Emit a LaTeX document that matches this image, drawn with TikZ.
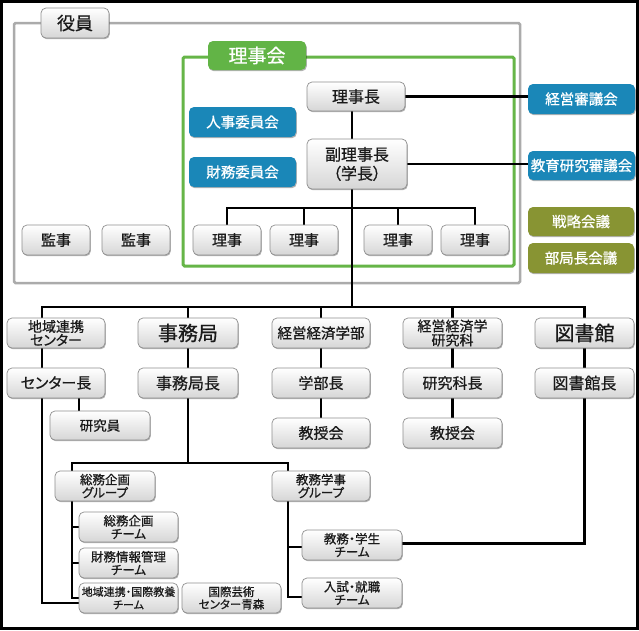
\documentclass[tikz,border=0pt]{standalone}
\usepackage{fontspec}
\setmainfont{Noto Sans CJK JP}[RawFeature=+palt, FakeBold=0.7]
\usetikzlibrary{shadows,calc}
\definecolor{boxline}{HTML}{8E8E8E}
\definecolor{boxbot}{HTML}{D6D6D6}
\definecolor{blueb}{HTML}{1A87B8}
\definecolor{oliveb}{HTML}{889433}
\definecolor{greenb}{HTML}{62B446}
\definecolor{greenf}{HTML}{66B548}
\definecolor{grayf}{HTML}{ABABAB}
\definecolor{txt}{HTML}{1A1A1A}
\newcommand\fsz[2]{\fontsize{#1}{#2}\selectfont}
\pgfdeclarelayer{bg}
\pgfdeclarelayer{lines}
\pgfsetlayers{bg,lines,main}
\begin{document}
\begin{tikzpicture}[x=1pt,y=-1pt,
  sz/.style 2 args={minimum width=#1, minimum height=#2},
  base/.style={rounded corners=5pt, align=center, inner sep=0pt,
    drop shadow={shadow xshift=0.8pt, shadow yshift=-1.2pt, opacity=0.3, fill=black}},
  gbox/.style={base, draw=boxline, line width=0.7pt, top color=white, bottom color=boxbot,
    text=txt, font=\fsz{15}{15}},
  team/.style={gbox, font=\fsz{12.5}{13}},
  bluebox/.style={base, fill=blueb, text=white, font=\fsz{14.5}{15}},
  olivebox/.style={base, fill=oliveb, text=white, font=\fsz{14.5}{15}},
  greenbox/.style={base, fill=greenb, text=white, font=\fsz{19}{19}},
  conn/.style={draw=black, line width=2.7pt, line cap=rect},
  frame/.style={line width=2.5pt, rounded corners=1.5pt}
]
\useasboundingbox (0,0) rectangle (639,630);
\draw[line width=2.6pt] (1.3,1.3) rectangle (637.7,628.7);

% ---- top nodes
\node[gbox, sz={68}{30}, font=\fsz{18}{18}] (yakuin) at (75,23) {役員};
\node[greenbox, sz={98}{29}] (rijikai) at (257,55.5) {理事会};
\node[bluebox, sz={107}{30}] (jinji) at (242.5,122) {人事委員会};
\node[bluebox, sz={107}{30}] (zaimu) at (242.5,172) {財務委員会};
\node[gbox, sz={68}{30}] (kanji1) at (56,240) {監事};
\node[gbox, sz={68}{30}] (kanji2) at (136,240) {監事};
\node[gbox, sz={68}{30}] (riji1) at (227,240) {理事};
\node[gbox, sz={68}{30}] (riji2) at (304,240) {理事};
\node[gbox, sz={68}{30}] (riji3) at (398,240) {理事};
\node[gbox, sz={68}{30}] (riji4) at (475,240) {理事};
\node[gbox, sz={98}{29}, font=\fsz{16}{16}] (rijicho) at (356,96.5) {理事長};
\node[gbox, sz={100}{50}, font=\fsz{16}{19}] (fuku) at (357,164) {副理事長\\（学長）};
\node[bluebox, sz={107}{30}] (keieishin) at (581.5,99) {経営審議会};
\node[bluebox, sz={107}{29}] (kyoikushin) at (581.5,165.5) {教育研究審議会};
\node[olivebox, sz={106}{29}] (senryaku) at (581,221.5) {戦略会議};
\node[olivebox, sz={106}{30}] (bukyoku) at (581,258) {部局長会議};

% ---- middle nodes
\node[gbox, sz={98}{30}, font=\fsz{14}{12}] (chiiki) at (56,333) {地域連携\\センター};
\node[gbox, sz={100}{30}, font=\fsz{20}{20}] (jimu) at (188,333) {事務局};
\node[gbox, sz={98}{30}, font=\fsz{14.5}{15}] (gakubu) at (321,333) {経営経済学部};
\node[gbox, sz={99}{30}, font=\fsz{14}{12}] (kenkyuka) at (452.5,333) {経営経済学\\研究科};
\node[gbox, sz={99}{30}, font=\fsz{20}{20}] (tosho) at (584.5,333) {図書館};
\node[gbox, sz={98}{30}] (centercho) at (56,383) {センター長};
\node[gbox, sz={100}{30}, font=\fsz{16}{16}] (jimucho) at (188,383) {事務局長};
\node[gbox, sz={98}{30}] (gakubucho) at (321,383) {学部長};
\node[gbox, sz={99}{30}] (kenkyukacho) at (452.5,383) {研究科長};
\node[gbox, sz={99}{30}, font=\fsz{16}{16}] (toshocho) at (584.5,383) {図書館長};
\node[gbox, sz={100}{29}, font=\fsz{13.5}{14}] (kenkyuin) at (100,425.5) {研究員};
\node[gbox, sz={98}{30}] (kyoju1) at (321,433) {教授会};
\node[gbox, sz={99}{30}] (kyoju2) at (452.5,433) {教授会};

% ---- bottom nodes
\node[team, sz={100}{30}] (somug) at (105,486) {総務企画\\グループ};
\node[team, sz={98}{30}] (kyomug) at (321,486) {教務学事\\グループ};
\node[team, sz={99}{30}] (somut) at (128.5,527) {総務企画\\チーム};
\node[team, sz={99}{30}] (zaimut) at (128.5,563) {財務情報管理\\チーム};
\node[team, sz={99}{30}, font=\fsz{11}{13}] (chiikit) at (128.5,598) {地域連携・国際教養\\チーム};
\node[team, sz={99}{30}, font=\fsz{11.5}{12.5}] (kokusai) at (231.5,598) {国際芸術\\センター青森};
\node[team, sz={100}{30}] (kgt) at (352,545) {教務・学生\\チーム};
\node[team, sz={100}{30}] (nyushi) at (352,593) {入試・就職\\チーム};

% ---- frames
\begin{pgfonlayer}{bg}
\draw[frame, draw=grayf] (14,23) rectangle (520,283);
\draw[frame, draw=greenf, line width=3pt] (183,57) rectangle (514,266);
\end{pgfonlayer}

% ---- connectors
\begin{pgfonlayer}{lines}
\coordinate (spine) at (352,307);
\coordinate (rbus) at (352,208);
\coordinate (lx) at (42,307);
\coordinate (gl) at (72,463);
\coordinate (gr) at (288,463);
\draw[conn] (spine |- rijicho.south) -- (spine |- fuku.north);
\draw[conn] (spine |- fuku.south) -- (spine);
\draw[conn] (rijicho.east) -- (rijicho.east -| keieishin.west);
\draw[conn] (fuku.east) -- (fuku.east -| kyoikushin.west);
\draw[conn] (riji1.north) |- (rbus) -| (riji4.north);
\draw[conn] (riji2.north) -- (riji2.north |- rbus);
\draw[conn] (riji3.north) -- (riji3.north |- rbus);
% main bus
\draw[conn] (lx |- chiiki.north) -- (lx) -- (spine) -| (tosho.north);
\draw[conn] (jimu.north) -- (jimu.north |- spine);
\draw[conn] (gakubu.north) -- (gakubu.north |- spine);
\draw[conn] (kenkyuka.north) -- (kenkyuka.north |- spine);
% columns
\draw[conn] (lx |- chiiki.south) -- (lx |- centercho.north);
\draw[conn] (lx |- centercho.south) |- ([yshift=-5pt]chiikit.west);
\draw[conn] ([xshift=-21pt]kenkyuin.north) -- ([xshift=-21pt]kenkyuin.north |- centercho.south);
\draw[conn] (jimu.south) -- (jimucho.north);
\draw[conn] (jimucho.south) -- (jimucho.south |- gl);
\draw[conn] (gakubu.south) -- (gakubucho.north);
\draw[conn] (gakubucho.south) -- (kyoju1.north);
\draw[conn] (kenkyuka.south) -- (kenkyukacho.north);
\draw[conn] (kenkyukacho.south) -- (kyoju2.north);
\draw[conn] (tosho.south) -- (toshocho.north);
\draw[conn] (toshocho.south) |- ([yshift=1.5pt]kgt.east);
% groups
\draw[conn] (gl |- somug.north) -- (gl) -- (gr) -- (gr |- kyomug.north);
\draw[conn] (gl |- somug.south) -- (gl |- chiikit.west) -- (chiikit.west);
\draw[conn] (gl |- somut.west) -- (somut.west);
\draw[conn] (gl |- zaimut.west) -- (zaimut.west);
\draw[conn] (gr |- kyomug.south) -- ([yshift=-4pt]gr |- nyushi.west) -- ([yshift=-4pt]nyushi.west);
\draw[conn] ([yshift=-2pt]gr |- kgt.west) -- ([yshift=-2pt]kgt.west);
\end{pgfonlayer}
\end{tikzpicture}
\end{document}
